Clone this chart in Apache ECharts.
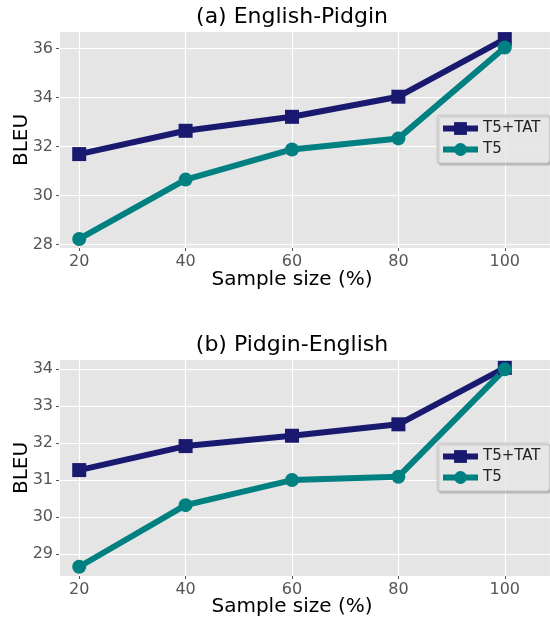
<!DOCTYPE html>
<html><head><meta charset="utf-8">
<script src="https://cdn.jsdelivr.net/npm/echarts@6/dist/echarts.min.js"></script>
<style>html,body{margin:0;padding:0;background:#fff}#c{width:550px;height:619px}</style>
</head><body><div id="c"></div>
<script>
const sampleSizes = [20, 40, 60, 80, 100];
const enPiT5TAT = [31.69, 32.64, 33.21, 34.03, 36.38];
const enPiT5 = [28.23, 30.65, 31.88, 32.33, 36.04];
const piEnT5TAT = [31.27, 31.92, 32.20, 32.51, 34.04];
const piEnT5 = [28.65, 30.32, 31.00, 31.09, 34.00];
const titles = ['(a) English-Pidgin', '(b) Pidgin-English'];
const xLabel = 'Sample size (%)';
const yLabel = 'BLEU';
const seriesNames = ['T5+TAT', 'T5'];

const FONT = 'DejaVu Sans';
const NAVY = '#191970', TEAL = '#008080';
const chart = echarts.init(document.getElementById('c'), null, {renderer: 'canvas'});

const grids = [
  {left: 59, top: 31, right: 0, height: 217},
  {left: 59, top: 359, right: 0, height: 217}
];
const yRanges = [[27.86, 36.71, 2], [28.4, 34.28, 1]];

function xAxis(i) {
  return {
    type: 'value', gridIndex: i, min: 16.2, max: 108.5, minInterval: 20, maxInterval: 20,
    axisLine: {show: false},
    axisTick: {show: true, length: 3, lineStyle: {color: '#555'}},
    axisLabel: {color: '#555', fontSize: 16, fontFamily: FONT, margin: 6,
      showMinLabel: false, showMaxLabel: false,
      formatter: v => (Math.abs(v % 20) < 1e-6 ? String(v) : '')},
    splitLine: {show: true, lineStyle: {color: '#fff', width: 1.2}}
  };
}
function yAxis(i) {
  const r = yRanges[i];
  return {
    type: 'value', gridIndex: i, min: r[0], max: r[1], minInterval: r[2], maxInterval: r[2],
    axisLine: {show: false},
    axisTick: {show: true, length: 3, lineStyle: {color: '#555'}},
    axisLabel: {color: '#555', fontSize: 16, fontFamily: FONT, margin: 6,
      showMinLabel: false, showMaxLabel: false,
      formatter: v => (Math.abs(v % r[2]) < 1e-6 ? String(v) : '')},
    splitLine: {show: true, lineStyle: {color: '#fff', width: 1.2}}
  };
}
function mkSeries(name, vals, idx, color, symbol, size) {
  return {
    name: name, type: 'line', xAxisIndex: idx, yAxisIndex: idx,
    data: sampleSizes.map((x, k) => [x, vals[k]]),
    symbol: symbol, symbolSize: size, showSymbol: true,
    lineStyle: {color: color, width: 6}, itemStyle: {color: color},
    emphasis: {disabled: true}, animation: false
  };
}
function legend(i, top) {
  return {
    show: true, orient: 'vertical', left: 437, top: top,
    data: [{name: seriesNames[0]}, {name: seriesNames[1]}],
    selectedMode: false,
    itemWidth: 35, itemHeight: 16, itemGap: 6,
    padding: [6, 9, 6, 3],
    lineStyle: {width: 6},
    backgroundColor: 'rgba(236,236,236,0.9)', borderColor: '#c8c8c8', borderWidth: 1, borderRadius: 3,
    shadowColor: 'rgba(0,0,0,0.25)', shadowBlur: 2, shadowOffsetX: 1.5, shadowOffsetY: 1.5,
    textStyle: {color: '#222', fontSize: 15, fontFamily: FONT}
  };
}

const graphics = [];
[[titles[0], 17, 280, 140], [titles[1], 345, 607, 468]].forEach(([t, ty, xy, by]) => {
  graphics.push({type: 'text', x: 292, y: ty, style: {text: t, font: '22px ' + FONT, fill: '#000', align: 'center', verticalAlign: 'middle'}});
  graphics.push({type: 'text', x: 292, y: xy, style: {text: xLabel, font: '20px ' + FONT, fill: '#000', align: 'center', verticalAlign: 'middle'}});
  graphics.push({type: 'text', x: 22, y: by, rotation: Math.PI / 2, style: {text: yLabel, font: '20px ' + FONT, fill: '#000', align: 'center', verticalAlign: 'middle'}});
});

chart.setOption({
  animation: false,
  backgroundColor: '#fff',
  grid: grids.map(g => Object.assign({backgroundColor: '#e5e5e5', show: true, borderWidth: 0}, g)),
  xAxis: [xAxis(0), xAxis(1)],
  yAxis: [yAxis(0), yAxis(1)],
  legend: [legend(0, 115), legend(1, 443)],
  series: [
    mkSeries(seriesNames[0], enPiT5TAT, 0, NAVY, 'rect', 14),
    mkSeries(seriesNames[1], enPiT5, 0, TEAL, 'circle', 14),
    mkSeries(seriesNames[0], piEnT5TAT, 1, NAVY, 'rect', 14),
    mkSeries(seriesNames[1], piEnT5, 1, TEAL, 'circle', 14)
  ],
  graphic: graphics
});
</script></body></html>
